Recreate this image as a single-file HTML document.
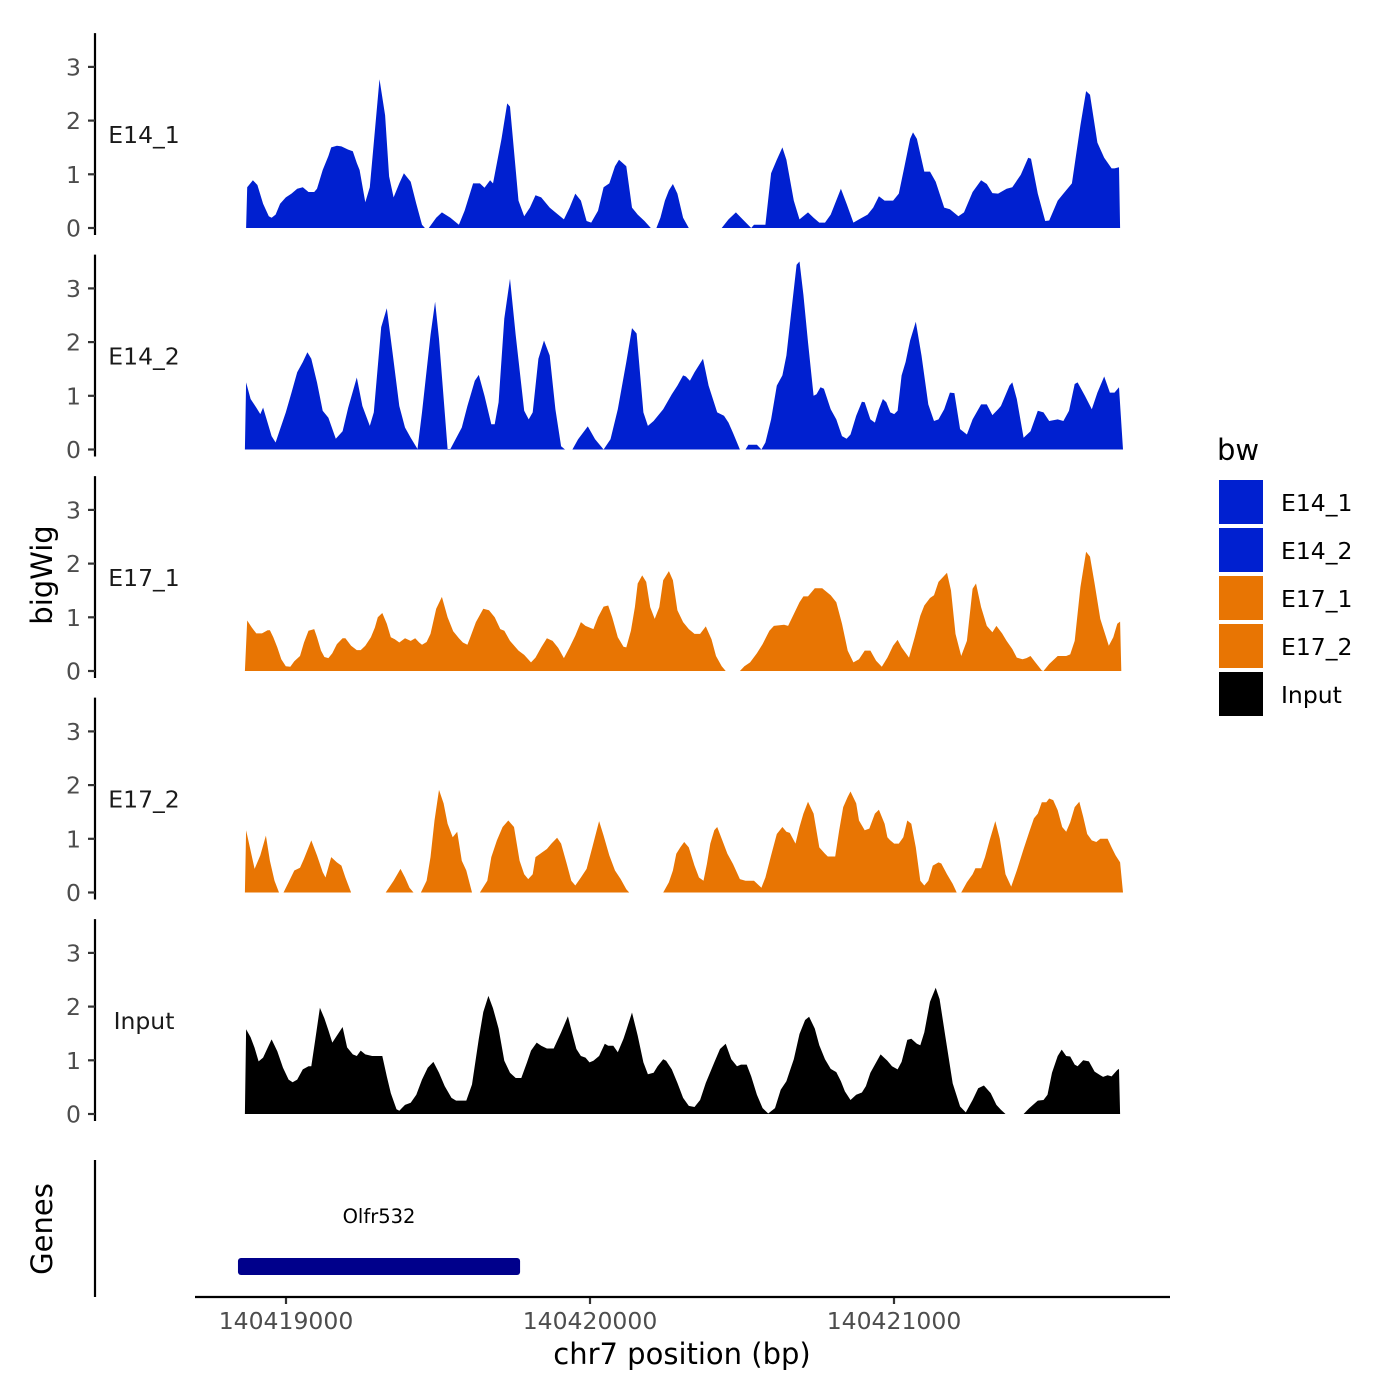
<!DOCTYPE html>
<html><head><meta charset="utf-8"><style>
html,body{margin:0;padding:0;background:#fff;}
svg{display:block;font-family:"DejaVu Sans","Liberation Sans",sans-serif;}
</style></head><body>
<svg id="chart" width="1400" height="1400" viewBox="0 0 1400 1400" xmlns="http://www.w3.org/2000/svg">
<rect width="1400" height="1400" fill="#fff"/>
<g id="tracks"></g>
<g id="axes"></g>
<text x="52" y="575" font-size="29" fill="#000" text-anchor="middle" transform="rotate(-90 52 575)">bigWig</text>
<text x="52" y="1229" font-size="29" fill="#000" text-anchor="middle" transform="rotate(-90 52 1229)">Genes</text>
<line x1="95" y1="1160" x2="95" y2="1297" stroke="#000" stroke-width="2.2"/>
<line x1="195" y1="1297" x2="1170" y2="1297" stroke="#000" stroke-width="2.2"/>
<text x="682" y="1364" font-size="29" fill="#000" text-anchor="middle">chr7 position (bp)</text>
<g id="legend">
<text x="1217" y="460" font-size="29" fill="#000">bw</text>
</g>
</svg>
<script>
// ---- data ----
const REGION_START = 140418850;   // bp at bin 0
const BIN_BP = 1.867;             // bp per bin
const trackNames = ["E14_1","E14_2","E17_1","E17_2","Input"];
const legendNames = ["E14_1","E14_2","E17_1","E17_2","Input"];
const xTicks = [140419000,140420000,140421000];
const yTicks = [0,1,2,3];
const geneName = ["Olfr532"];
const geneStart = [140418842];
const geneEnd = [140419770];

const e14_1_bins = [10,12,22,30,40,50,55,62,70,80,90,100,110,120,130,135,145,155,160,170,178,190,198,205,210,220,228,245,255,262,270,280,288,300,310,320,325,null,
332,345,355,370,385,395,410,422,430,440,445,460,470,475,490,500,510,520,530,545,555,570,580,590,600,610,618,630,640,650,660,667,680,690,700,712,723,null,
733,740,748,755,762,770,780,790,null,
848,860,873,885,900,905,925,935,945,955,962,975,985,1000,1010,1020,1030,1040,1058,1068,1080,1090,1105,1115,1125,1135,1150,1160,1170,1180,1185,1192,1205,1215,1225,1240,1250,1265,1275,1290,1305,1315,1325,1335,1350,1360,1375,1388,1393,1405,1418,1425,1440,1450,1465,1480,1490,1497,1510,1522,1535,1540,1548,1550];
const e14_1_vals = [0,.76,.89,.80,.45,.22,.19,.25,.45,.57,.64,.73,.76,.67,.67,.73,1.08,1.34,1.50,1.53,1.52,1.46,1.43,1.21,1.08,.48,.76,2.77,2.10,.96,.57,.83,1.02,.86,.45,.06,0,null,
0,.19,.29,.19,.06,.32,.83,.83,.75,.89,.83,1.66,2.32,2.26,.51,.22,.38,.61,.57,.38,.29,.16,.38,.64,.51,.13,.10,.32,.76,.83,1.15,1.27,1.15,.38,.25,.13,0,null,
0,.19,.51,.70,.82,.64,.19,0,null,
0,.16,.29,.16,0,.06,.06,1.02,1.27,1.50,1.27,.51,.16,.29,.19,.10,.10,.25,.73,.45,.10,.16,.25,.38,.59,.51,.51,.64,1.15,1.66,1.78,1.66,1.05,1.05,.86,.38,.35,.22,.29,.67,.89,.82,.65,.64,.73,.76,.99,1.31,1.29,.64,.13,.14,.51,.64,.83,1.91,2.55,2.48,1.59,1.31,1.11,1.11,1.13,0];

const e14_2_bins = [8,10,18,28,35,40,48,55,62,70,80,90,100,110,118,125,135,145,155,168,180,190,205,215,228,235,248,258,268,280,290,300,312,320,335,343,350,365,370,390,400,413,420,430,442,448,455,465,475,485,500,508,515,525,535,545,555,565,572,null,
585,595,612,625,640,652,665,680,690,698,710,718,728,745,760,770,780,785,792,800,815,825,840,852,860,868,880,null,
890,895,910,918,925,935,945,955,962,970,980,985,992,1000,1010,1015,1022,1028,1040,1050,1060,1068,1075,1085,1095,1100,1110,1118,1125,1132,1138,1145,1152,1158,1165,1172,1180,1190,1200,1212,1222,1230,1240,1250,1258,1268,1280,1290,1305,1315,1325,1335,1340,1355,1360,1368,1380,1392,1405,1415,1425,1440,1450,1460,1470,1475,1488,1500,1510,1522,1532,1540,1548,1555];
const e14_2_vals = [0,1.25,.94,.78,.66,.78,.5,.25,.13,.38,.69,1.06,1.44,1.63,1.81,1.69,1.25,.72,.59,.2,.34,.78,1.34,.81,.44,.69,2.28,2.63,1.81,.81,.41,.22,.01,.69,2.13,2.75,2.06,.01,.01,.41,.81,1.28,1.39,1.0,.47,.47,.88,2.44,3.18,2.13,.72,.56,.69,1.69,2.03,1.75,.75,.06,0,null,
0,.19,.43,.19,0,.19,.75,1.63,2.26,2.16,.69,.44,.53,.75,1.03,1.19,1.38,1.36,1.28,1.44,1.69,1.19,.69,.63,.5,.31,0,null,
0,.09,.09,0,.13,.56,1.19,1.38,1.75,2.5,3.44,3.5,2.88,2.0,1.0,1.03,1.16,1.13,.75,.56,.25,.2,.28,.63,.89,.88,.56,.5,.75,.94,.88,.69,.66,.72,1.38,1.63,2.03,2.38,1.75,.84,.53,.56,.75,1.06,1.05,.38,.28,.56,.84,.84,.64,.75,.81,1.19,1.25,.94,.22,.34,.72,.69,.53,.56,.53,.72,1.22,1.25,1.0,.75,1.06,1.36,1.06,1.06,1.16,0];

const e17_1_bins = [8,12,20,28,38,48,52,58,65,72,80,88,95,105,112,120,130,135,142,148,155,162,170,180,185,195,205,212,220,230,237,242,250,258,265,272,280,290,300,308,315,320,328,335,345,355,365,375,385,392,400,405,415,428,438,448,458,465,475,490,500,512,520,530,540,550,560,570,580,590,600,608,622,630,640,648,655,665,675,680,688,695,700,708,715,722,730,738,745,755,762,770,780,790,800,810,820,830,838,848,855,null,
880,888,898,910,920,932,940,958,965,975,985,992,1000,1012,1025,1040,1050,1060,1070,1080,1090,1100,1110,1120,1130,1140,1150,1158,1165,1178,1188,1198,1205,1215,1222,1230,1245,1252,1260,1270,1280,1290,1296,1305,1315,1325,1332,1342,1350,1360,1368,1378,1385,1392,1400,1412,1415,1425,1440,1455,1462,1470,1480,1490,1497,1505,1515,1530,1538,1545,1550,1552];
const e17_1_vals = [0,.94,.81,.7,.7,.76,.76,.63,.44,.22,.09,.08,.18,.28,.53,.75,.78,.63,.38,.26,.24,.33,.5,.61,.61,.47,.39,.39,.47,.63,.81,1.0,1.08,.88,.63,.59,.53,.61,.56,.61,.53,.49,.54,.69,1.16,1.38,1.0,.74,.61,.53,.49,.63,.91,1.16,1.13,1.0,.78,.75,.56,.38,.3,.16,.25,.44,.61,.56,.43,.24,.44,.66,.91,.84,.78,1.0,1.2,1.22,1.0,.63,.45,.44,.75,1.19,1.63,1.78,1.66,1.19,.97,1.19,1.69,1.86,1.69,1.13,.91,.78,.69,.69,.83,.59,.28,.09,0,null,
0,.09,.16,.33,.5,.75,.84,.86,.84,1.06,1.28,1.39,1.39,1.54,1.54,1.41,1.28,.88,.38,.16,.22,.38,.38,.19,.08,.25,.47,.58,.44,.25,.63,1.03,1.22,1.36,1.41,1.66,1.83,1.5,.69,.28,.56,1.53,1.63,1.19,.84,.72,.84,.7,.56,.41,.25,.22,.24,.28,.17,.01,0,.13,.28,.28,.31,.56,1.56,2.22,2.13,1.63,.97,.47,.63,.88,.92,0];

const e17_2_bins = [8,10,18,25,35,45,52,60,68,null,
76,85,95,105,112,125,135,145,150,160,170,178,185,195,null,
256,270,282,290,298,305,null,
318,328,335,342,350,358,365,374,382,390,398,408,null,
422,435,442,452,462,472,482,492,500,507,515,520,532,540,548,558,565,575,583,590,600,610,620,632,640,650,660,670,680,685,null,
745,755,762,768,775,782,790,800,808,816,822,828,835,840,848,858,868,880,890,905,918,925,935,945,955,962,968,978,985,992,1000,1010,1020,1030,1035,1048,1055,1062,1070,1075,1085,1090,1100,1108,1118,1125,1135,1140,1145,1152,1160,1168,1175,1182,1190,1198,1205,1212,1220,1230,1235,1245,1255,1262,null,
1270,1280,1290,1295,1305,1312,1320,1330,1338,1348,1358,1368,1380,1390,1398,1405,1412,1420,1425,1432,1440,1448,1455,1462,1470,1478,1485,1492,1500,1508,1515,1528,1535,1542,1550,1555];
const e17_2_vals = [0,1.16,.78,.44,.69,1.06,.59,.22,0,null,
0,.19,.41,.46,.63,.97,.69,.38,.28,.66,.56,.5,.28,0,null,
0,.22,.44,.28,.09,0,null,
0,.22,.66,1.34,1.91,1.66,1.28,1.03,1.13,.59,.41,0,null,
0,.22,.66,.97,1.22,1.34,1.22,.59,.34,.25,.34,.66,.75,.81,.91,1.02,.91,.53,.22,.13,.28,.44,.84,1.33,1.06,.69,.41,.25,.06,0,null,
0,.19,.41,.72,.84,.94,.84,.5,.28,.22,.53,.91,1.16,1.22,1.0,.72,.53,.25,.22,.22,.09,.28,.69,1.09,1.22,1.13,1.11,.91,1.22,1.47,1.69,1.47,.84,.72,.67,.67,1.16,1.59,1.78,1.88,1.66,1.34,1.16,1.19,1.47,1.54,1.28,1.03,.97,.91,.91,1.03,1.34,1.28,.84,.22,.13,.22,.5,.56,.54,.34,.16,0,null,
0,.19,.34,.45,.45,.66,.97,1.33,1.0,.34,.11,.41,.81,1.13,1.38,1.47,1.68,1.68,1.75,1.72,1.53,1.22,1.13,1.31,1.59,1.69,1.41,1.09,.97,.94,1.0,1.0,.84,.69,.56,0];

const input_bins = [8,10,18,25,32,40,48,55,65,75,85,92,100,110,120,125,132,140,148,155,162,170,180,188,198,205,212,220,232,250,258,265,275,280,290,300,310,320,330,340,350,360,372,380,398,408,420,428,437,445,455,465,475,485,495,505,512,522,530,540,552,565,577,585,592,600,608,615,622,632,642,648,657,665,675,680,690,700,710,718,728,735,745,750,760,770,780,790,800,810,820,835,845,855,865,875,882,892,900,910,920,930,942,952,962,968,975,985,995,1002,1012,1020,1030,1040,1050,1058,1065,1075,1085,1095,1102,1110,1118,1128,1140,1148,1158,1165,1175,1182,1192,1198,1205,1215,1225,1232,1242,1255,1268,1278,1290,1300,1310,1322,1332,1340,1348,null,
1380,1390,1405,1415,1422,1430,1440,1447,1455,1462,1470,1475,1485,1495,1505,1515,1520,1528,1535,1545,1548,1550];
const input_vals = [0,1.58,1.43,1.23,.98,1.05,1.23,1.39,1.17,.86,.64,.59,.64,.83,.89,.89,1.39,1.98,1.78,1.56,1.33,1.46,1.62,1.24,1.11,1.08,1.18,1.11,1.08,1.08,.70,.39,.09,.06,.17,.21,.36,.64,.86,.97,.77,.52,.30,.25,.25,.55,1.40,1.9,2.2,1.97,1.59,.99,.77,.67,.67,.96,1.18,1.33,1.27,1.22,1.22,1.52,1.82,1.49,1.21,1.08,1.05,.96,.99,1.08,1.31,1.27,1.27,1.15,1.4,1.56,1.89,1.46,.96,.74,.77,.89,1.02,.99,.83,.58,.30,.15,.13,.26,.58,.96,1.21,1.31,1.02,.89,.92,.92,.70,.36,.11,.01,.11,.45,.61,.8,1.02,1.49,1.75,1.81,1.59,1.28,1.02,.84,.78,.61,.42,.26,.36,.4,.52,.77,.92,1.11,.99,.89,.83,.97,1.38,1.40,1.31,1.28,1.52,2.09,2.35,2.14,1.45,.57,.14,.03,.26,.48,.53,.39,.17,.08,0,null,
0,.11,.25,.26,.36,.77,1.08,1.2,1.08,1.07,.92,.89,1.0,.98,.79,.72,.69,.72,.70,.82,.84,0];

const trackBins = [e14_1_bins,e14_2_bins,e17_1_bins,e17_2_bins,input_bins];
const trackVals = [e14_1_vals,e14_2_vals,e17_1_vals,e17_2_vals,input_vals];
const trackColors = ["#0020D0","#0020D0","#E87503","#E87503","#000000"];

// ---- scales ----
const NS = "http://www.w3.org/2000/svg";
const X0PX = 286, X0BP = 140419000, PX_PER_BP = 0.304;
function xScale(bp){ return X0PX + (bp - X0BP) * PX_PER_BP; }
function binToBp(b){ return REGION_START + b * BIN_BP; }
const PANEL_ZERO0 = 228, PANEL_STEP = 221.5, PX_PER_UNIT = 53.7;
function yScale(k, v){ return PANEL_ZERO0 + k*PANEL_STEP - v*PX_PER_UNIT; }
function mk(tag, attrs, parent){ const e=document.createElementNS(NS,tag); for(const a in attrs) e.setAttribute(a, attrs[a]); parent.appendChild(e); return e; }

const tracksG = document.getElementById('tracks');
const axesG = document.getElementById('axes');

trackNames.forEach((name, k) => {
  const g = mk('g', {}, tracksG);
  
  
  const bins = trackBins[k], vals = trackVals[k];
  const zero = yScale(k, 0);
  let seg = [];
  const flush = () => {
    if (seg.length < 2) { seg = []; return; }
    let d = 'M' + seg[0][0].toFixed(1) + ',' + zero.toFixed(1);
    seg.forEach(p => { d += 'L' + p[0].toFixed(1) + ',' + p[1].toFixed(1); });
    d += 'L' + seg[seg.length-1][0].toFixed(1) + ',' + zero.toFixed(1) + 'Z';
    const p = mk('path', {d: d, fill: trackColors[k]}, g);
    
    
    seg = [];
  };
  for (let i = 0; i < bins.length; i++) {
    if (bins[i] === null || vals[i] === null) { flush(); continue; }
    seg.push([xScale(binToBp(bins[i])), yScale(k, vals[i])]);
  }
  flush();

  const top = yScale(k, 3.63), bot = yScale(k, -0.13);
  const ax = mk('line', {x1:95, y1:top, x2:95, y2:bot, stroke:'#000', 'stroke-width':2.2}, axesG);
  
  
  yTicks.forEach(t => {
    const y = yScale(k, t);
    const tk = mk('line', {x1:88, y1:y, x2:95, y2:y, stroke:'#333', 'stroke-width':2.2}, axesG);
    
    
    const tl = mk('text', {x:81, y:y+8.5, 'font-size':23.5, fill:'#4d4d4d', 'text-anchor':'end'}, axesG);
    tl.textContent = t;
    
    
  });
  const lbl = mk('text', {x:144, y:yScale(k,1.75)+9, 'font-size':23.5, fill:'#1a1a1a', 'text-anchor':'middle'}, axesG);
  lbl.textContent = name;
  
  
});

xTicks.forEach(t => {
  const x = xScale(t);
  const tk = mk('line', {x1:x, y1:1297, x2:x, y2:1304, stroke:'#333', 'stroke-width':2.2}, axesG);
  
  
  const tl = mk('text', {x:x, y:1329, 'font-size':23.5, fill:'#4d4d4d', 'text-anchor':'middle'}, axesG);
  tl.textContent = t;
  
  
});

geneName.forEach((gn, i) => {
  const x1 = xScale(geneStart[i]), x2 = xScale(geneEnd[i]);
  const r = mk('rect', {x:x1, y:1258, width:x2-x1, height:17, rx:3, fill:'#00008B'}, axesG);
  
  
  const t = mk('text', {x:(x1+x2)/2, y:1223, 'font-size':19.5, fill:'#000', 'text-anchor':'middle'}, axesG);
  t.textContent = gn;
  
  
});

const legG = document.getElementById('legend');
const legColors = ["#0020D0","#0020D0","#E87503","#E87503","#000000"];
legendNames.forEach((n, i) => {
  const y = 480 + i*48;
  const sw = mk('rect', {x:1219, y:y, width:44, height:44, fill:legColors[i]}, legG);
  
  
  const tx = mk('text', {x:1281, y:y+31, 'font-size':23.5, fill:'#000'}, legG);
  tx.textContent = n;
  
  
});
</script>
</body></html>
